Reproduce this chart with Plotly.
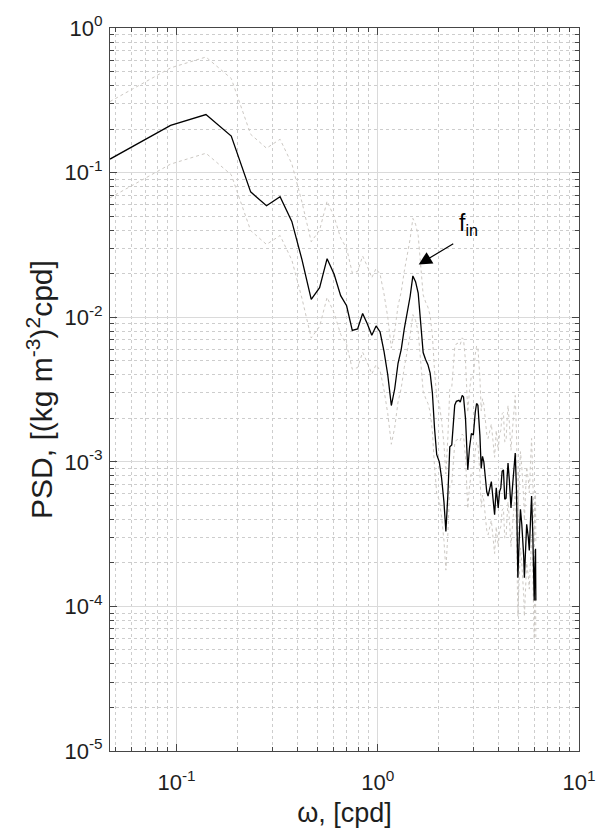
import numpy as np
import plotly.graph_objects as go

# Frequencies (cpd) and power spectral density of density anomaly
FREQ = [0.0467, 0.0934, 0.140, 0.187, 0.2335, 0.280, 0.327, 0.374, 0.420, 0.467,
        0.514, 0.560, 0.607, 0.654, 0.700, 0.747, 0.794, 0.841, 0.887, 0.934,
        0.981, 1.027, 1.074, 1.121, 1.168, 1.214, 1.261, 1.308, 1.354, 1.401,
        1.448, 1.494, 1.541, 1.588, 1.634, 1.681, 1.728, 1.775, 1.821, 1.868,
        1.915, 1.963, 2.022, 2.076, 2.132, 2.180, 2.230, 2.280, 2.332, 2.366,
        2.412, 2.458, 2.532, 2.570, 2.628, 2.668, 2.729, 2.801, 2.855, 2.919,
        2.985, 3.052, 3.098, 3.145, 3.217, 3.266, 3.315, 3.365, 3.415, 3.480,
        3.533, 3.600, 3.668, 3.736, 3.807, 3.879, 3.967, 4.027, 4.088, 4.150,
        4.212, 4.276, 4.341, 4.390, 4.439, 4.506, 4.592, 4.679, 4.821, 4.893,
        4.967, 5.061, 5.118, 5.196, 5.235, 5.313, 5.353, 5.434, 5.495, 5.599,
        5.662, 5.748, 5.813, 5.900, 5.989, 6.034, 6.080, 6.103]

PSD = [0.124, 0.212, 0.252, 0.179, 0.0736, 0.059, 0.068, 0.046, 0.025, 0.0133,
       0.016, 0.0254, 0.0198, 0.0141, 0.012, 0.0081, 0.0083, 0.0106, 0.0090, 0.0075,
       0.0087, 0.0079, 0.0058, 0.0040, 0.00245, 0.0032, 0.0048, 0.0060, 0.0083, 0.0107,
       0.0139, 0.0193, 0.0176, 0.0147, 0.0089, 0.0057, 0.0051, 0.0047, 0.0041, 0.0030,
       0.0017, 0.00112, 0.00100, 0.00077, 0.00053, 0.00033, 0.00059, 0.00127, 0.00131, 0.00170,
       0.00246, 0.00262, 0.00266, 0.00259, 0.00288, 0.00281, 0.00199, 0.00088, 0.00124, 0.00157,
       0.00153, 0.00221, 0.00253, 0.00246, 0.00153, 0.00090, 0.00109, 0.00100, 0.00081, 0.00062,
       0.00058, 0.00066, 0.00073, 0.00056, 0.00043, 0.00066, 0.00048, 0.00062, 0.00066, 0.00086,
       0.00088, 0.00055, 0.00056, 0.00077, 0.00098, 0.00075, 0.00048, 0.00069, 0.00115, 0.00062,
       0.000158, 0.00033, 0.00047, 0.00037, 0.00032, 0.00022, 0.000158, 0.00030, 0.00037, 0.00030,
       0.000244, 0.00041, 0.00058, 0.00030, 0.00011, 0.000185, 0.00025, 0.00011]

# 95% confidence multipliers
CI_UPPER = 2.5
CI_LOWER = 0.54

X_TICKS = [0.1, 1, 10]
X_TICK_TEXT = ["10<sup>-1</sup>", "10<sup>0</sup>", "10<sup>1</sup>"]
Y_TICKS = [1e-5, 1e-4, 1e-3, 1e-2, 1e-1, 1]
Y_TICK_TEXT = ["10<sup>-5</sup>", "10<sup>-4</sup>", "10<sup>-3</sup>",
               "10<sup>-2</sup>", "10<sup>-1</sup>", "10<sup>0</sup>"]

freq = np.array(FREQ)
psd = np.array(PSD)

FONT = "Liberation Sans, Arial, sans-serif"
TEXT_COLOR = "rgb(30,30,30)"
AX_COLOR = "rgb(70,70,70)"
GRID_MAJOR = "rgb(218,218,218)"
GRID_MINOR = "rgb(205,205,205)"
BOUND_COLOR = "rgb(204,200,195)"

fig = go.Figure()
fig.add_trace(go.Scatter(x=freq, y=psd * CI_UPPER, mode="lines",
                         line=dict(color=BOUND_COLOR, width=1, dash="dot"),
                         showlegend=False, hoverinfo="skip"))
fig.add_trace(go.Scatter(x=freq, y=psd * CI_LOWER, mode="lines",
                         line=dict(color=BOUND_COLOR, width=1, dash="dot"),
                         showlegend=False, hoverinfo="skip"))
fig.add_trace(go.Scatter(x=freq, y=psd, mode="lines",
                         line=dict(color="black", width=1.3),
                         showlegend=False))

x_minor = [m * 10.0 ** e for e in (-2, -1, 0) for m in range(2, 10)]
y_minor = [m * 10.0 ** e for e in range(-5, 0) for m in range(2, 10)]

common = dict(
    showline=True, linecolor=AX_COLOR, linewidth=1, mirror="allticks",
    ticks="inside", ticklen=7, tickcolor=AX_COLOR,
    showgrid=True, gridcolor=GRID_MAJOR, gridwidth=1,
    zeroline=False,
    tickfont=dict(family=FONT, size=22, color=TEXT_COLOR),
)

fig.update_xaxes(
    type="log", range=[np.log10(freq[0]), 1],
    tickvals=X_TICKS, ticktext=X_TICK_TEXT, ticklabelstandoff=12,
    minor=dict(tickvals=x_minor, ticks="inside", ticklen=4, tickcolor=AX_COLOR,
               showgrid=True, gridcolor=GRID_MINOR, griddash="dot"),
    title=dict(text="ω, [cpd]", font=dict(family=FONT, size=27, color=TEXT_COLOR),
               standoff=8),
    **common,
)
fig.update_yaxes(
    type="log", range=[-5, 0],
    tickvals=Y_TICKS, ticktext=Y_TICK_TEXT, ticklabelstandoff=2,
    minor=dict(tickvals=y_minor, ticks="inside", ticklen=4, tickcolor=AX_COLOR,
               showgrid=True, gridcolor=GRID_MINOR, griddash="dot"),
    title=dict(text="PSD, [(kg m<sup>-3</sup>)<sup>2</sup>cpd]",
               font=dict(family=FONT, size=30, color=TEXT_COLOR), standoff=2),
    **common,
)

# Arrow marking the inertial frequency peak
arrow_tip = (1.597, 0.0231)
arrow_tail = (2.413, 0.0327)
fig.add_annotation(
    x=np.log10(arrow_tip[0]), y=np.log10(arrow_tip[1]),
    ax=np.log10(arrow_tail[0]), ay=np.log10(arrow_tail[1]),
    xref="x", yref="y", axref="x", ayref="y",
    text="", showarrow=True, arrowhead=2, arrowsize=2.2, arrowwidth=1.2,
    arrowcolor="black",
)
fig.add_annotation(
    x=np.log10(2.83), y=np.log10(0.0435), xref="x", yref="y",
    text="f<sub>in</sub>", showarrow=False,
    font=dict(family=FONT, size=23, color="black"),
)

fig.update_layout(
    width=608, height=834,
    margin=dict(l=110, r=18, t=24, b=83),
    paper_bgcolor="white", plot_bgcolor="white",
    font=dict(family=FONT),
)

fig.write_html("out.html")
